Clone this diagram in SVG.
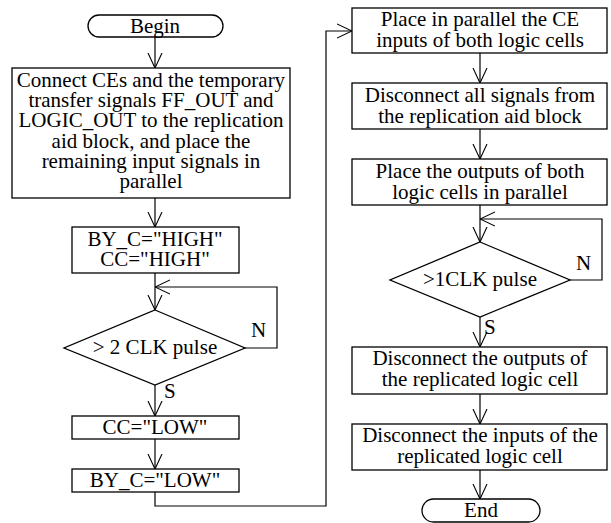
<svg xmlns="http://www.w3.org/2000/svg" width="611" height="523" viewBox="0 0 611 523" font-family="'Liberation Serif', 'Times New Roman', 'DejaVu Serif', serif">
<defs>
<marker id="arr" markerUnits="userSpaceOnUse" viewBox="0 0 15 16" refX="15" refY="8" markerWidth="15" markerHeight="16" orient="auto">
<path d="M0,1 L15,8 L0,15" fill="none" stroke="#000" stroke-width="1.1"/>
</marker>
<style>
.b{fill:#fff;stroke:#000;stroke-width:1.3}
.t{font-size:21px;fill:#000;text-anchor:middle}
.l{font-size:21px;fill:#000}
.c{fill:none;stroke:#000;stroke-width:1.2}
</style>
</defs>
<rect width="611" height="523" fill="#fff"/>
<g id="connectors">
<line class="c" x1="155" y1="37" x2="155" y2="68" marker-end="url(#arr)"/>
<line class="c" x1="155" y1="198" x2="155" y2="227" marker-end="url(#arr)"/>
<line class="c" x1="155" y1="273" x2="155" y2="310" marker-end="url(#arr)"/>
<polyline class="c" points="245,348 277,348 277,287 155,287" marker-end="url(#arr)"/>
<line class="c" x1="155" y1="385" x2="155" y2="416" marker-end="url(#arr)"/>
<line class="c" x1="155" y1="439" x2="155" y2="469" marker-end="url(#arr)"/>
<polyline class="c" points="155,492 155,506 326,506 326,31 352,31" marker-end="url(#arr)"/>
<line class="c" x1="480" y1="53" x2="480" y2="83" marker-end="url(#arr)"/>
<line class="c" x1="480" y1="129" x2="480" y2="159" marker-end="url(#arr)"/>
<line class="c" x1="480" y1="205" x2="480" y2="242" marker-end="url(#arr)"/>
<polyline class="c" points="570,280 602,280 602,219 480,219" marker-end="url(#arr)"/>
<line class="c" x1="480" y1="317" x2="480" y2="347" marker-end="url(#arr)"/>
<line class="c" x1="480" y1="394" x2="480" y2="424" marker-end="url(#arr)"/>
<line class="c" x1="480" y1="470" x2="480" y2="499" marker-end="url(#arr)"/>
<text class="l" x="251" y="337">N</text>
<text class="l" x="164" y="398">S</text>
<text class="l" x="576" y="270">N</text>
<text class="l" x="484" y="334">S</text>
</g>
<g id="begin">
<rect class="b" x="88" y="15" width="135" height="22" rx="11"/>
<text class="t" x="155" y="33">Begin</text>
</g>
<g id="connect">
<rect class="b" x="12" y="68" width="278" height="130"/>
<text class="t" x="151" y="87">Connect CEs and the temporary</text>
<text class="t" x="151" y="107">transfer signals FF_OUT and</text>
<text class="t" x="151" y="127">LOGIC_OUT to the replication</text>
<text class="t" x="151" y="148">aid block, and place the</text>
<text class="t" x="151" y="168">remaining input signals in</text>
<text class="t" x="151" y="188">parallel</text>
</g>
<g id="high">
<rect class="b" x="72" y="227" width="167" height="46"/>
<text class="t" x="155" y="246">BY_C="HIGH"</text>
<text class="t" x="155" y="266">CC="HIGH"</text>
</g>
<g id="dec1">
<polygon class="b" points="155,310 245,348 155,385 64,348"/>
<text class="t" x="155" y="354">&gt; 2 CLK pulse</text>
</g>
<g id="cclow">
<rect class="b" x="72" y="416" width="167" height="23"/>
<text class="t" x="155" y="434">CC="LOW"</text>
</g>
<g id="bylow">
<rect class="b" x="72" y="469" width="167" height="23"/>
<text class="t" x="155" y="487">BY_C="LOW"</text>
</g>
<g id="ce">
<rect class="b" x="352" y="8" width="255" height="45"/>
<text class="t" x="480" y="26">Place in parallel the CE</text>
<text class="t" x="480" y="47">inputs of both logic cells</text>
</g>
<g id="disc">
<rect class="b" x="352" y="83" width="255" height="46"/>
<text class="t" x="480" y="102">Disconnect all signals from</text>
<text class="t" x="480" y="123">the replication aid block</text>
</g>
<g id="outpar">
<rect class="b" x="352" y="159" width="255" height="46"/>
<text class="t" x="480" y="178">Place the outputs of both</text>
<text class="t" x="480" y="199">logic cells in parallel</text>
</g>
<g id="dec2">
<polygon class="b" points="480,242 570,280 480,317 390,280"/>
<text class="t" x="480" y="286">&gt;1CLK pulse</text>
</g>
<g id="discout">
<rect class="b" x="352" y="347" width="255" height="47"/>
<text class="t" x="480" y="365">Disconnect the outputs of</text>
<text class="t" x="480" y="386">the replicated logic cell</text>
</g>
<g id="discin">
<rect class="b" x="352" y="424" width="255" height="46"/>
<text class="t" x="480" y="442">Disconnect the inputs of the</text>
<text class="t" x="480" y="463">replicated logic cell</text>
</g>
<g id="end">
<rect class="b" x="422" y="499" width="118" height="23" rx="11.5"/>
<text class="t" x="481" y="517">End</text>
</g>
</svg>
